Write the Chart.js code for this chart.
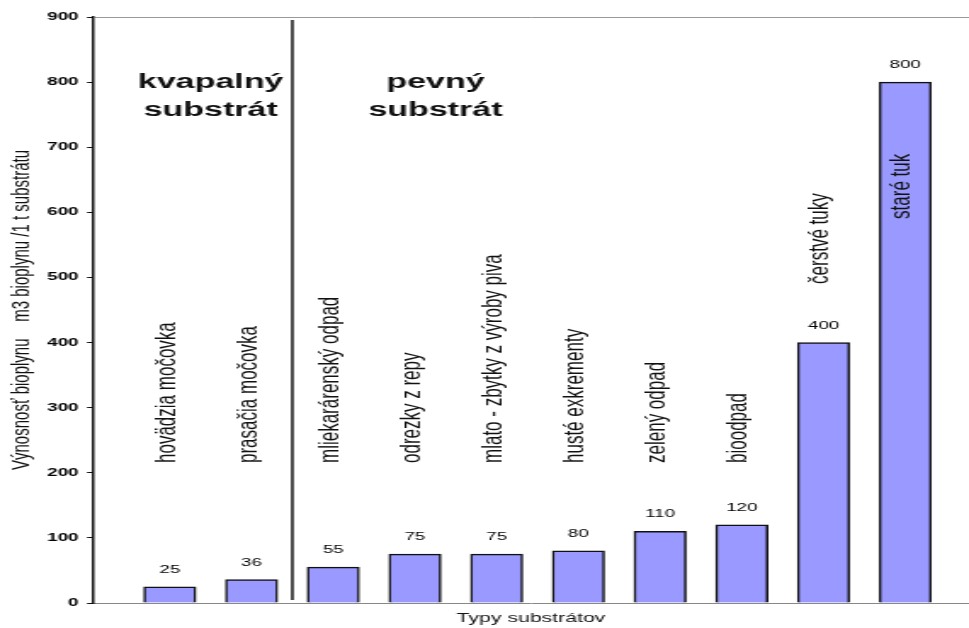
<!DOCTYPE html>
<html>
<head>
<meta charset="utf-8">
<script src="https://cdn.jsdelivr.net/npm/chart.js@4/dist/chart.umd.min.js"></script>
<style>
html,body{margin:0;padding:0;background:#fff;overflow:hidden;width:969px;height:628px}
#wrap{position:absolute;left:0;top:0;width:570px;height:628px;transform:scaleX(1.7);transform-origin:0 0}
</style>
</head>
<body>
<div id="wrap"><canvas id="c"></canvas></div>
<script>
const categories = ['hovädzia močovka','prasačia močovka','mliekarárenský odpad','odrezky z repy','mlato - zbytky z výroby piva','husté exkrementy','zelený odpad','bioodpad','čerstvé tuky','staré tuk'];
const yields = [25, 36, 55, 75, 75, 80, 110, 120, 400, 800];
const groupNames = ['kvapalný substrát', 'pevný substrát'];
const groupSizes = [2, 8];
const yTicks = [0, 100, 200, 300, 400, 500, 600, 700, 800, 900];
const yTitle = 'Výnosnosť bioplynu    m3 bioplynu /1 t substrátu';
const xTitle = 'Typy substrátov';

const FAM = "'Liberation Sans', Arial, sans-serif";
Chart.defaults.font.family = FAM;

const annotations = {
  id: 'annotations',
  afterDatasetsDraw(chart, args, opts) {
    const {ctx, chartArea: area, scales: {x, y}} = chart;
    const bars = chart.getDatasetMeta(0).data;
    ctx.save();
    ctx.fillStyle = '#111';
    ctx.textAlign = 'center';
    ctx.textBaseline = 'middle';
    let start = 0;
    groupSizes.forEach((n, g) => {
      if (g > 0) {
        const px = x.getPixelForValue(start - 0.5);
        ctx.strokeStyle = '#000';
        ctx.lineWidth = 1.4;
        ctx.beginPath();
        ctx.moveTo(px, area.top + 3);
        ctx.lineTo(px, area.bottom - 3);
        ctx.stroke();
      }
      const cx = x.getPixelForValue(opts.groupLabelAt[g]);
      ctx.font = 'bold 20px ' + FAM;
      const ly = y.getPixelForValue(800);
      groupNames[g].split(' ').forEach((w, k) => ctx.fillText(w, cx, ly + k * 28));
      start += n;
    });
    ctx.fillStyle = '#000';
    ctx.font = '11px ' + FAM;
    bars.forEach((b, i) => ctx.fillText(String(yields[i]), b.x, b.y - 17));
    ctx.fillStyle = '#111';
    ctx.font = '17px ' + FAM;
    bars.forEach((b, i) => {
      const w = ctx.measureText(categories[i]).width;
      let anchor = y.getPixelForValue(Math.max(yields[i], 125) + 90);
      let align = 'left';
      if (anchor - w < area.top + 4) {
        anchor = y.getPixelForValue(yields[i] - 110);
        align = 'right';
      }
      ctx.save();
      ctx.translate(b.x - 2, anchor);
      ctx.rotate(-Math.PI / 2);
      ctx.textAlign = align;
      ctx.textBaseline = 'middle';
      ctx.fillText(categories[i], 0, 0);
      ctx.restore();
    });
    ctx.restore();
  }
};

new Chart(document.getElementById('c'), {
  type: 'bar',
  data: {
    datasets: [{
      data: categories.map((c, i) => ({x: i, y: yields[i]})),
      backgroundColor: '#9999ff',
      borderColor: '#111',
      borderWidth: 1.5,
      barThickness: 30.6
    }]
  },
  options: {
    responsive: true,
    maintainAspectRatio: false,
    animation: false,
    layout: {padding: {top: 17, right: 0, bottom: 0, left: 0}},
    plugins: {
      legend: {display: false},
      tooltip: {enabled: false},
      annotations: {groupLabelAt: [0.5, 3.25]}
    },
    scales: {
      x: {
        type: 'linear',
        offset: false,
        min: -0.94,
        max: 9.78,
        afterFit: s => { s.height = 25; },
        ticks: {display: false},
        grid: {display: false, offset: false},
        border: {display: true, color: '#888', width: 1},
        title: {display: true, text: xTitle, color: '#111', font: {size: 12.5}, padding: {top: 0, bottom: 1.5}}
      },
      y: {
        min: 0,
        max: 900,
        afterBuildTicks: s => { s.ticks = yTicks.map(v => ({value: v})); },
        afterFit: s => { s.width = 54.7; },
        ticks: {color: '#000', font: {size: 11, weight: 'bold'}, padding: 5},
        grid: {
          color: c => (c.tick && c.tick.value === 900) ? '#999' : 'rgba(0,0,0,0)',
          tickColor: '#111',
          tickLength: 3.5,
          lineWidth: 1
        },
        border: {display: true, color: '#111', width: 1.5},
        title: {display: true, text: yTitle, color: '#111', font: {size: 15}, padding: {top: 3.4, bottom: 0}}
      }
    }
  },
  plugins: [annotations]
});
</script>
</body>
</html>
